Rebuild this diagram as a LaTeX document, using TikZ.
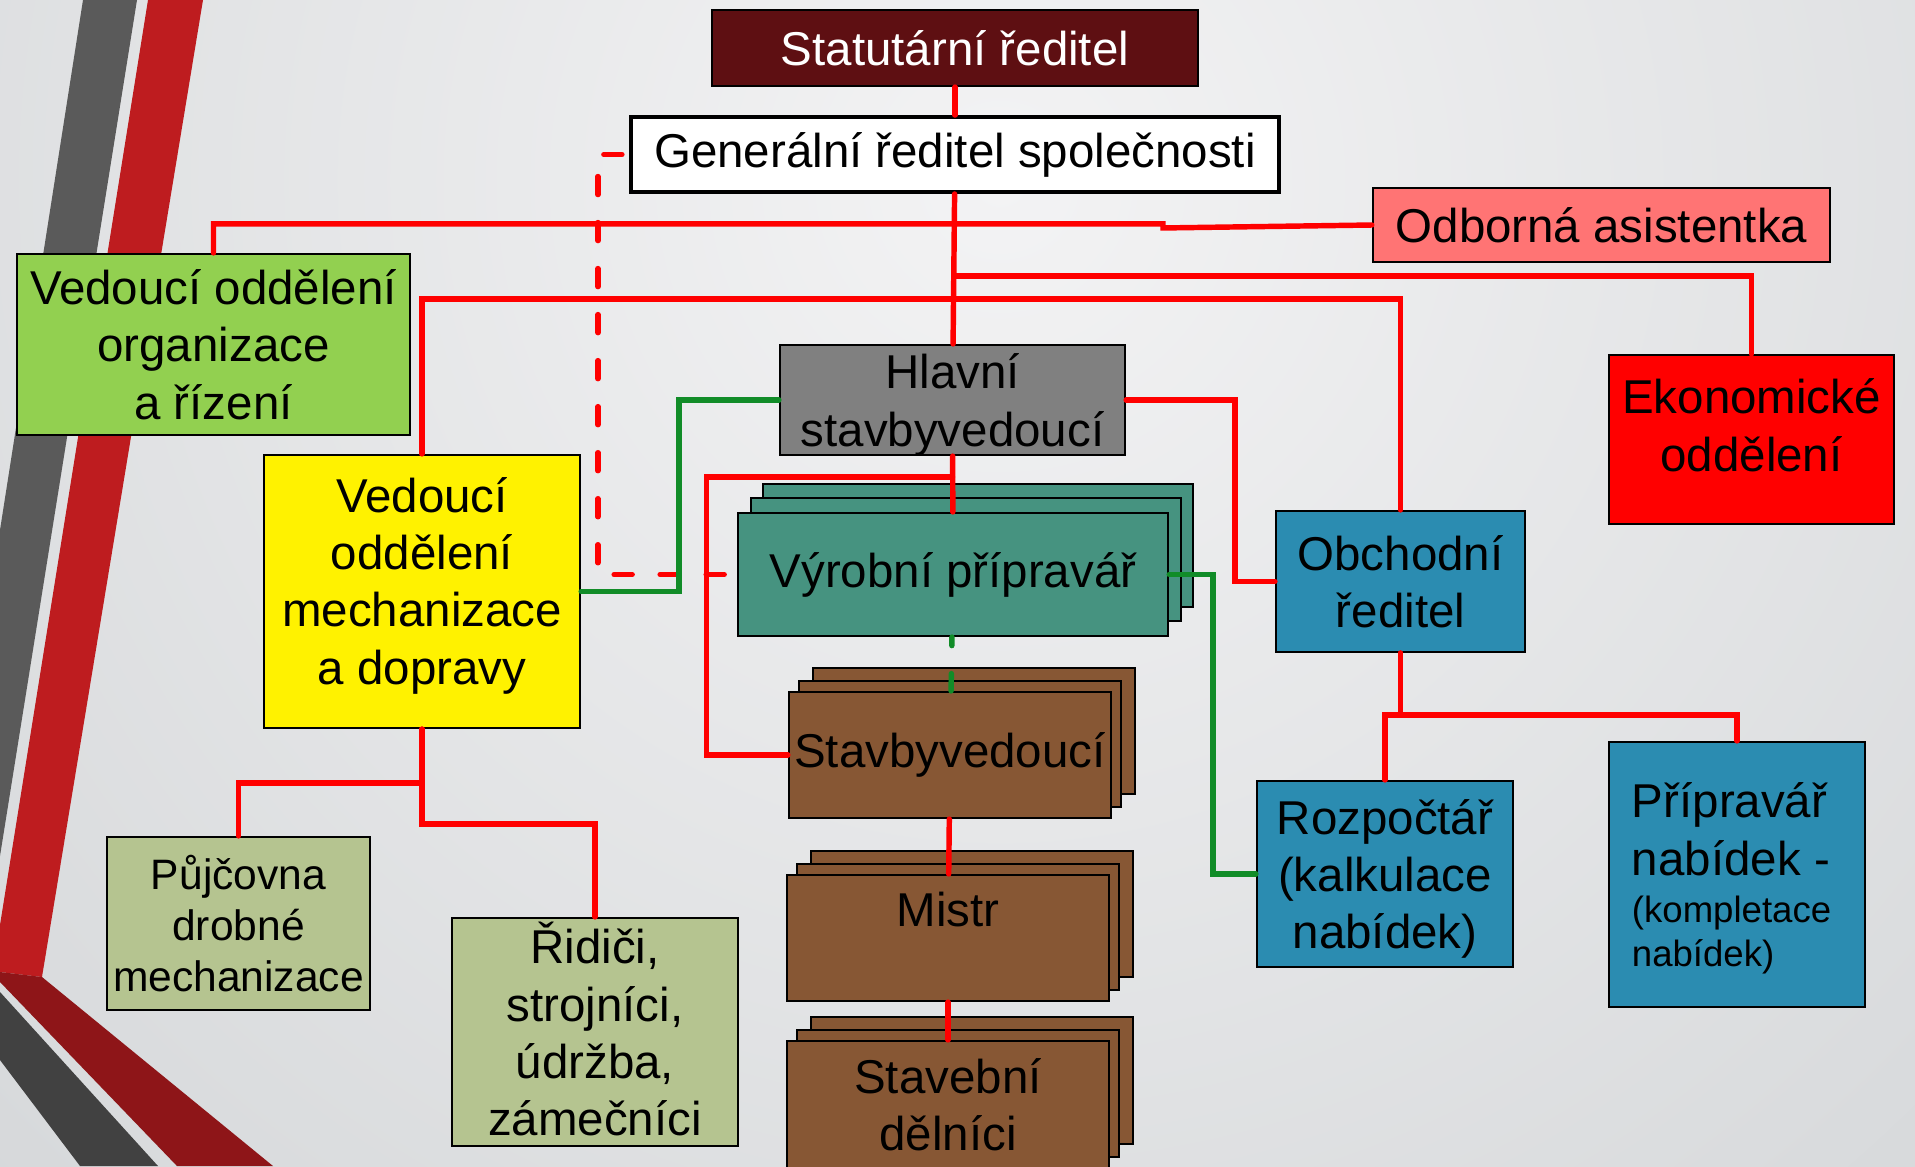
\documentclass[tikz,border=0pt]{standalone}
\usepackage{fontspec}
\setmainfont{Liberation Sans}
\usepackage{tikz}
\usetikzlibrary{shadows}
\definecolor{oc_bg_in}{RGB}{243, 243, 244}
\definecolor{oc_bg_out}{RGB}{190, 194, 197}
\definecolor{oc_maroon}{RGB}{94, 15, 18}
\definecolor{oc_salmon}{RGB}{255, 116, 116}
\definecolor{oc_lime}{RGB}{146, 208, 80}
\definecolor{oc_grey}{RGB}{128, 128, 128}
\definecolor{oc_teal}{RGB}{70, 147, 128}
\definecolor{oc_blue}{RGB}{43, 140, 177}
\definecolor{oc_brown}{RGB}{135, 87, 52}
\definecolor{oc_khaki}{RGB}{181, 196, 144}
\definecolor{oc_green}{RGB}{17, 140, 40}
\definecolor{oc_s_grey}{RGB}{90, 90, 90}
\definecolor{oc_s_red}{RGB}{190, 28, 31}
\definecolor{oc_s_dred}{RGB}{142, 21, 24}
\definecolor{oc_s_dgrey}{RGB}{65, 65, 65}
\tikzstyle{bx}=[rectangle,draw=black,line width=0.6pt,inner sep=0pt,align=center,
  font=\fontsize{13.5}{16.3}\selectfont]
\tikzstyle{bn}=[bx,fill=oc_blue]
\tikzstyle{kn}=[bx,fill=oc_khaki]
\tikzstyle{tn}=[bx,fill=oc_teal,
  copy shadow={shadow xshift=0.25cm,shadow yshift=0.29cm,fill=oc_teal,line width=0.6pt},
  copy shadow={shadow xshift=0.13cm,shadow yshift=0.15cm,fill=oc_teal,line width=0.6pt}]
\tikzstyle{brn}=[bx,fill=oc_brown,
  copy shadow={shadow xshift=0.24cm,shadow yshift=0.24cm,fill=oc_brown,line width=0.6pt},
  copy shadow={shadow xshift=0.10cm,shadow yshift=0.11cm,fill=oc_brown,line width=0.6pt}]
\tikzstyle{rl}=[draw=red,line width=1.55pt,line cap=round]
\tikzstyle{gl}=[draw=oc_green,line width=1.55pt,line cap=round]

\begin{document}
\begin{tikzpicture}[x=0.01cm,y=-0.01cm]
            \useasboundingbox (0,0) rectangle (1915,1166);
            \begin{scope}
                \clip (0,0) rectangle (1915,1166);
                \shade [inner color=oc_bg_in,outer color=oc_bg_out] (1000,180) circle (2600);
            \end{scope}
            % stripes on the left
            \fill [oc_s_grey] (83,0) -- (137,0) -- (0,856) -- (0,530) -- cycle;
            \fill [oc_s_red] (148,0) -- (203,0) -- (42,977) -- (0,972) -- (0,925) -- cycle;
            \fill [oc_s_dred] (0,972) -- (42,977) -- (273,1166) -- (177,1166) -- (0,982) -- cycle;
            \fill [oc_s_dgrey] (0,992) -- (158,1166) -- (80,1166) -- (0,1060) -- cycle;

            \node [style=bx,fill=oc_maroon,text=white,minimum width=4.86cm,minimum height=0.76cm] (0) at (955, 48) {Statutární ředitel};
            \node [style=bx,fill=white,line width=1.1pt,minimum width=6.48cm,minimum height=0.75cm] (1) at (955, 154.5) {Generální ředitel společnosti};
            \node [style=bx,fill=oc_salmon,minimum width=4.57cm,minimum height=0.74cm] (2) at (1601.5, 225) {Odborná asistentka};
            \node [style=bx,fill=oc_lime,minimum width=3.93cm,minimum height=1.81cm] (3) at (213.5, 344.5) {Vedoucí oddělení\\organizace\\a řízení};
            \node [style=bx,fill=red,minimum width=2.85cm,minimum height=1.69cm] (4) at (1751.5, 439.5) {Ekonomické\\oddělení\\[-0.6em]\mbox{}};
            \node [style=bx,fill=oc_grey,text depth=0pt,minimum width=3.45cm,minimum height=1.10cm] (5) at (952.5, 400) {Hlavní\\stavbyvedoucí};
            \node [style=bx,fill=yellow,minimum width=3.16cm,minimum height=2.73cm] (6) at (422, 591.5) {Vedoucí\\oddělení\\mechanizace\\a dopravy\\[-0.75em]\mbox{}};
            \node [style=tn,minimum width=4.30cm,minimum height=1.23cm] (7) at (953, 574.5) {Výrobní přípravář};
            \node [style=bn,minimum width=2.49cm,minimum height=1.41cm] (8) at (1400.5, 581.5) {Obchodní\\ředitel};
            \node [style=brn,minimum width=3.22cm,minimum height=1.26cm] (9) at (950, 755) {Stavbyvedoucí};
            \node [style=brn,minimum width=3.22cm,minimum height=1.26cm] (10) at (948, 938) {Mistr\\\mbox{}};
            \node [style=brn,minimum width=3.22cm,minimum height=1.27cm] (11) at (948, 1104.5) {Stavební\\dělníci};
            \node [style=bn,text depth=0pt,minimum width=2.56cm,minimum height=1.86cm] (12) at (1385, 874) {Rozpočtář\\(kalkulace\\nabídek)};
            \node [style=bn,align=left,text depth=0pt,minimum width=2.56cm,minimum height=2.65cm] (13) at (1737, 874.5)
                {\makebox[2.10cm][l]{Přípravář}\\nabídek -\\[-3pt]\fontsize{10.4}{12.5}\selectfont (kompletace\\[-3.8pt]\fontsize{10.4}{12.5}\selectfont nabídek)};
            \node [style=kn,font=\fontsize{12.1}{14.5}\selectfont,minimum width=2.63cm,minimum height=1.73cm] (14) at (238.5, 923.5) {Půjčovna\\drobné\\mechanizace};
            \node [style=kn,minimum width=2.86cm,minimum height=2.28cm] (15) at (595, 1032) {Řidiči,\\strojníci,\\údržba,\\zámečníci\\[-1.08em]\mbox{}};

            \path (1.south) ++(0,30) coordinate (a) ++(0,52) coordinate (b) ++(0,23) coordinate (c);
            \path (5.south) ++(0,21) coordinate (d);
            \draw [style=rl] (0) to (1);
            \draw [style=rl] (1) to (5);
            \draw [style=rl] (3.north) |- (a) -- ++(208,0) -- ++(0,4) -- (2.west);
            \draw [style=rl] (b) -| (4.north);
            \draw [style=rl] (6.north) |- (c) -| (8.north);
            \draw [style=rl,dash pattern=on 0.18cm off 0.28cm,dash phase=0.39cm] (1.west) -- ++(-31,0) |- (7.west);
            \draw [style=gl] (5.west) -- ++(-100,0) |- (6.east);
            \draw [style=rl] (5.east) -- ++(109,0) |- (8.west);
            \draw [style=rl] (5) to (7);
            \draw [style=rl] (d) -- ++(-246,0) |- (9.west);
            \draw [style=gl] (7.east) -- ++(44,0) |- (12.west);
            \draw [style=gl,dash pattern=on 0.18cm off 0.28cm,dash phase=0.095cm] (7) to (9);
            \draw [style=rl] (9) to (10);
            \draw [style=rl] (10) to (11);
            \draw [style=rl] (6.south) -- ++(0,54) -| (14.north);
            \draw [style=rl] (6.south) -- ++(0,95) -| (15.north);
            \draw [style=rl] (8.south) -- ++(0,62) -| (12.north);
            \draw [style=rl] (8.south) -- ++(0,62) -| (13.north);
\end{tikzpicture}
\end{document}
